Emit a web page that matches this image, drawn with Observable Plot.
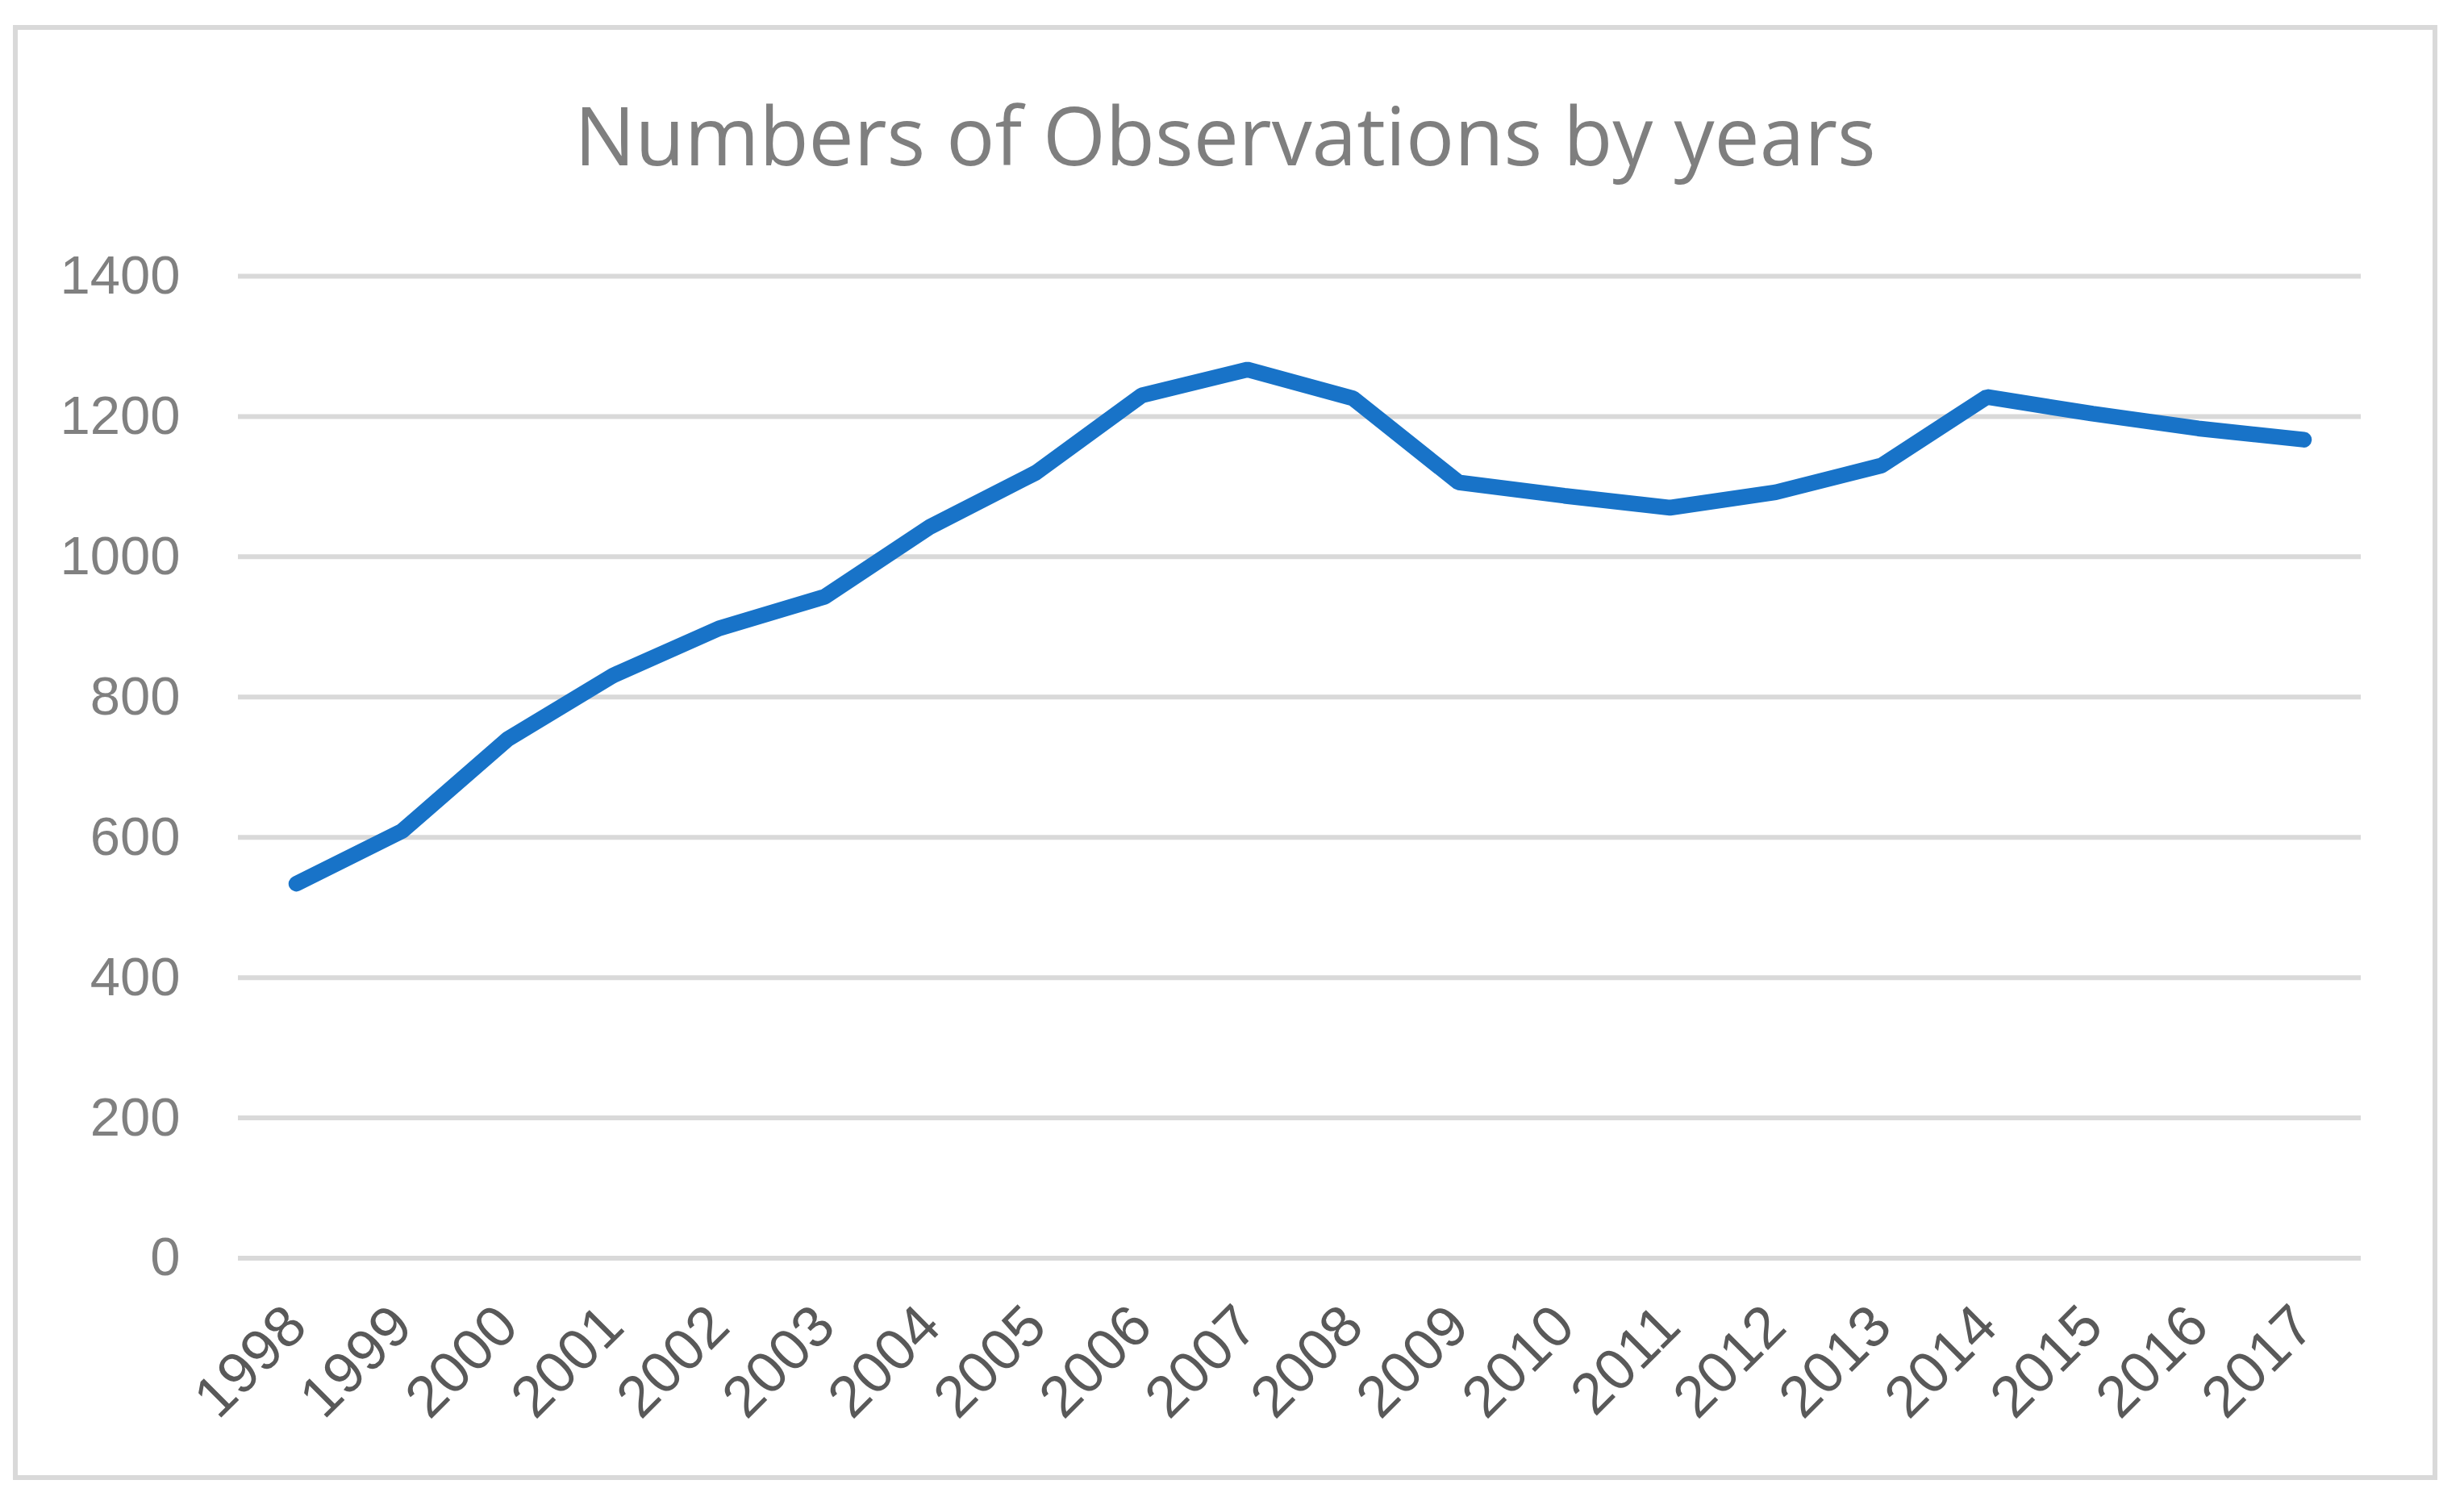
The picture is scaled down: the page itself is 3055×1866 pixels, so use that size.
<!DOCTYPE html>
<html>
<head>
<meta charset="utf-8">
<script src="https://cdn.jsdelivr.net/npm/d3@7"></script>
<script src="https://cdn.jsdelivr.net/npm/@observablehq/plot@0.6"></script>
<style>
  html, body { margin: 0; padding: 0; background: #ffffff; }
  #page { position: relative; width: 3055px; height: 1866px; overflow: hidden; background: #fff; }
  #frame { position: absolute; left: 16px; top: 31px; width: 3006px; height: 1804px; box-sizing: border-box; border: 6px solid #d9d9d9; }
  #title { position: absolute; left: 0; top: 0; }
  #chart { position: absolute; left: 0; top: 0; }
</style>
</head>
<body>
<div id="page">
  <div id="frame"></div>
  <div id="chart"></div>
  <svg id="title" width="3055" height="300">
    <text id="titleText" x="1519" y="205" text-anchor="middle" fill="#7f7f7f" font-family="Open Sans" font-size="100">Numbers of Observations by years</text>
  </svg>
</div>
<script>
const titleLabel = "Numbers of Observations by years";
const years = ["1998","1999","2000","2001","2002","2003","2004","2005","2006","2007","2008","2009","2010","2011","2012","2013","2014","2015","2016","2017"];
const observations = [534, 609, 740, 831, 898, 943, 1043, 1120, 1230, 1267, 1226, 1106, 1087, 1070, 1092, 1130, 1228, 1204, 1183, 1167];
const yTicks = [0, 200, 400, 600, 800, 1000, 1200, 1400];

document.getElementById("titleText").textContent = titleLabel;

const data = years.map((y, i) => ({year: y, value: observations[i]}));

const plot = Plot.plot({
  width: 3055,
  height: 1866,
  marginLeft: 295,
  marginRight: 128,
  marginTop: 342,
  marginBottom: 306.5,
  style: {fontFamily: "Liberation Sans", background: "transparent"},
  x: {type: "point", domain: years, padding: 0.5},
  y: {domain: [0, 1400], ticks: yTicks},
  marks: [
    Plot.gridY(yTicks, {stroke: "#d9d9d9", strokeOpacity: 1, strokeWidth: 6}),
    Plot.axisY(yTicks, {tickSize: 0, tickPadding: 72, fontSize: 67, color: "#808080", label: null, tickFormat: d => String(d)}),
    Plot.axisX(years, {tickSize: 0, tickPadding: 72, tickRotate: -45, fontSize: 72, color: "#595959", label: null}),
    Plot.line(data, {x: "year", y: "value", stroke: "#1873c8", strokeWidth: 19.5, strokeLinecap: "round", strokeLinejoin: "miter"})
  ]
});
document.getElementById("chart").appendChild(plot);
</script>
</body>
</html>
